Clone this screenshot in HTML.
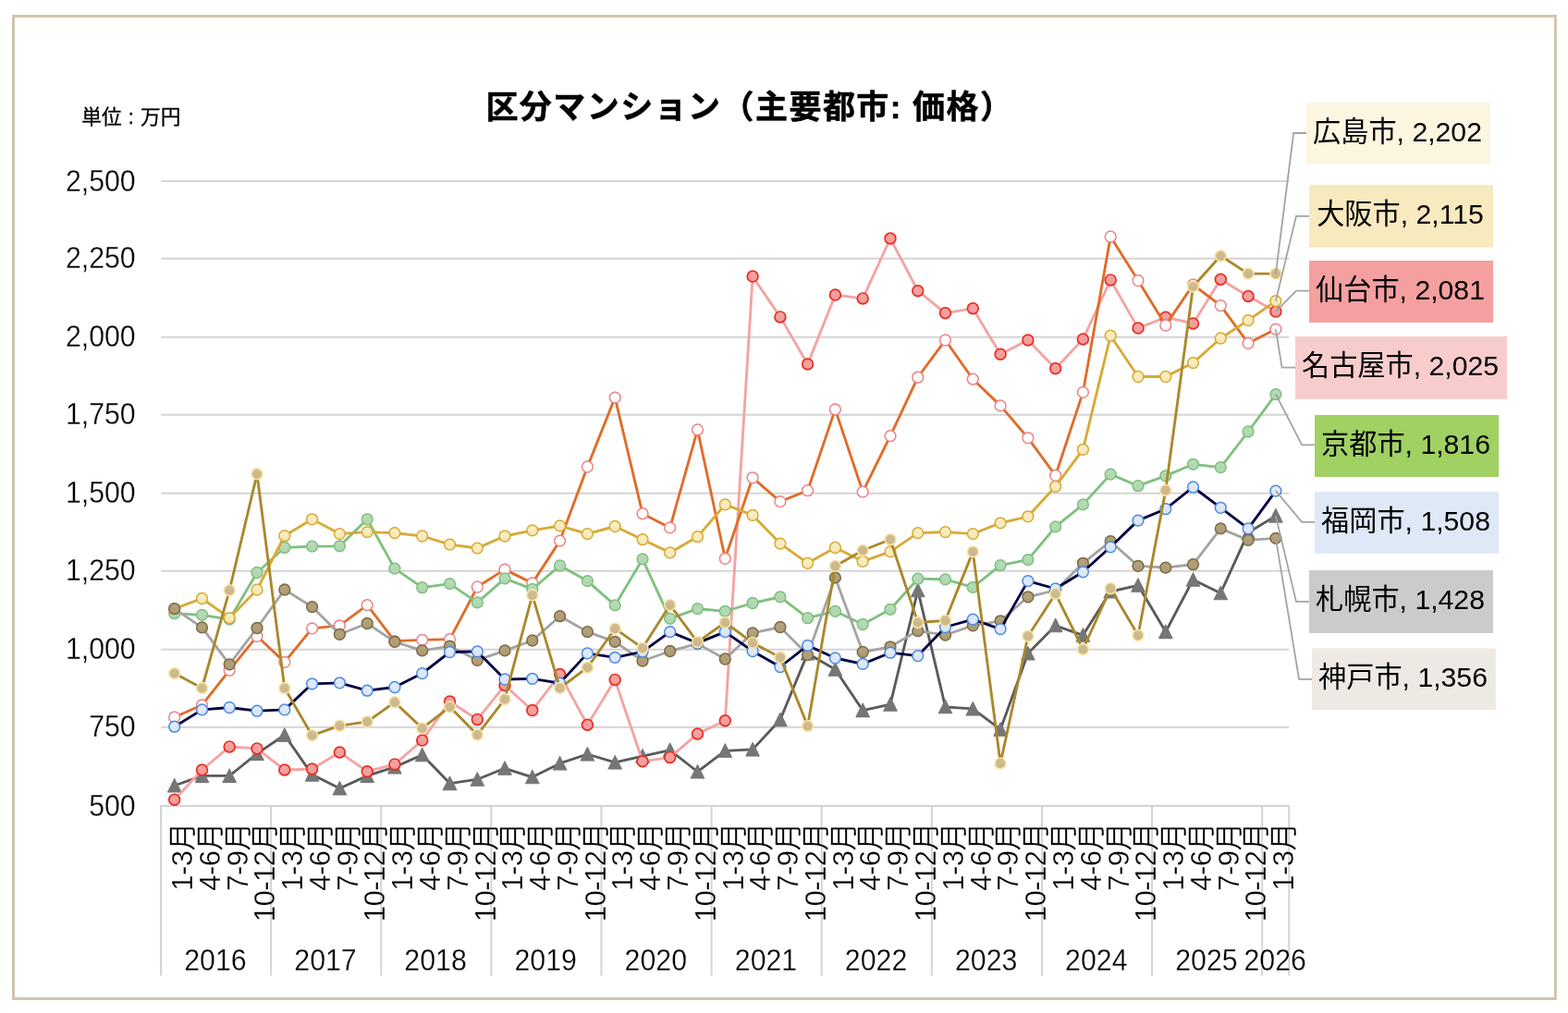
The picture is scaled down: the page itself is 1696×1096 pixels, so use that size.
<!DOCTYPE html>
<html lang="ja"><head><meta charset="utf-8"><title>区分マンション（主要都市: 価格）</title>
<style>
html,body{margin:0;padding:0;background:#fff;}
body{width:1696px;height:1096px;overflow:hidden;}
svg{display:block;}
text{font-family:"Liberation Sans","Noto Sans CJK JP",sans-serif;fill:#000;}
.ttl{font-weight:bold;font-size:35px;letter-spacing:1.45px;stroke:#000;stroke-width:0.5px;stroke-linejoin:round;}
.unit{font-size:21.7px;word-spacing:1.1px;stroke:#000;stroke-width:0.3px;}
.ax{font-size:32.8px;stroke:#fff;stroke-width:0.28px;}
.yr{font-size:32.8px;stroke:#fff;stroke-width:0.28px;}
.cat{font-size:31.0px;letter-spacing:-0.55px;stroke:#fff;stroke-width:0.28px;}
.dl{font-size:30.2px;letter-spacing:0.00px;}
.grid line{stroke:#d4d4d4;stroke-width:2;}
.lead polyline{fill:none;stroke:#a3a3a3;stroke-width:1.8;}
polyline.s{fill:none;stroke-width:2.85;stroke-linejoin:round;stroke-linecap:round;}
</style></head><body>
<svg width="1696" height="1096" viewBox="0 0 1696 1096">
<rect x="0" y="0" width="1696" height="1096" fill="#ffffff"/>
<defs>
<linearGradient id="g-sapporo" x1="0" y1="0" x2="0" y2="1"><stop offset="0" stop-color="#797979"/><stop offset="1" stop-color="#727272"/></linearGradient>
<linearGradient id="g-sendai" x1="0" y1="0" x2="0" y2="1"><stop offset="0" stop-color="#f6a3a2"/><stop offset="1" stop-color="#ef9c9b"/></linearGradient>
<linearGradient id="g-kyoto" x1="0" y1="0" x2="0" y2="1"><stop offset="0" stop-color="#b7dcb7"/><stop offset="1" stop-color="#b0d5b0"/></linearGradient>
<linearGradient id="g-osaka" x1="0" y1="0" x2="0" y2="1"><stop offset="0" stop-color="#fbeebf"/><stop offset="1" stop-color="#f4e7b8"/></linearGradient>
<linearGradient id="g-kobe" x1="0" y1="0" x2="0" y2="1"><stop offset="0" stop-color="#b3a27c"/><stop offset="1" stop-color="#ac9b75"/></linearGradient>
<linearGradient id="g-fukuoka" x1="0" y1="0" x2="0" y2="1"><stop offset="0" stop-color="#e2ebfb"/><stop offset="1" stop-color="#dbe4f4"/></linearGradient>
<linearGradient id="g-hiroshima" x1="0" y1="0" x2="0" y2="1"><stop offset="0" stop-color="#d2bc92"/><stop offset="1" stop-color="#cbb58b"/></linearGradient>
</defs>
<rect x="14.5" y="17.5" width="1667.9" height="1062.95" fill="#ffffff" stroke="#d1c5af" stroke-width="3"/>
<text class="ttl" x="525.4" y="127.6">区分マンション（主要都市: 価格）</text>
<text class="unit" x="88.3" y="134.4">単位 : 万円</text>
<g class="grid">
<line x1="173.0" y1="872.05" x2="1394.3" y2="872.05"/>
<line x1="174.2" y1="786.70" x2="1394.3" y2="786.70"/>
<line x1="174.2" y1="702.65" x2="1394.3" y2="702.65"/>
<line x1="174.2" y1="617.65" x2="1394.3" y2="617.65"/>
<line x1="174.2" y1="533.65" x2="1394.3" y2="533.65"/>
<line x1="174.2" y1="448.65" x2="1394.3" y2="448.65"/>
<line x1="174.2" y1="364.85" x2="1394.3" y2="364.85"/>
<line x1="174.2" y1="279.70" x2="1394.3" y2="279.70"/>
<line x1="174.2" y1="196.05" x2="1394.3" y2="196.05"/>
<line x1="174.00" y1="872.05" x2="174.00" y2="1055.6"/>
<line x1="293.12" y1="872.05" x2="293.12" y2="1055.6"/>
<line x1="412.24" y1="872.05" x2="412.24" y2="1055.6"/>
<line x1="531.36" y1="872.05" x2="531.36" y2="1055.6"/>
<line x1="650.48" y1="872.05" x2="650.48" y2="1055.6"/>
<line x1="769.60" y1="872.05" x2="769.60" y2="1055.6"/>
<line x1="888.72" y1="872.05" x2="888.72" y2="1055.6"/>
<line x1="1007.84" y1="872.05" x2="1007.84" y2="1055.6"/>
<line x1="1126.96" y1="872.05" x2="1126.96" y2="1055.6"/>
<line x1="1246.08" y1="872.05" x2="1246.08" y2="1055.6"/>
<line x1="1365.20" y1="872.05" x2="1365.20" y2="1055.6"/>
<line x1="1394.3" y1="871.05" x2="1394.3" y2="1055.6"/>
</g>
<g class="ax" text-anchor="end">
<text transform="translate(146.7 882.6) scale(0.924 1)">500</text>
<text transform="translate(146.7 797.2) scale(0.924 1)">750</text>
<text transform="translate(146.7 713.2) scale(0.924 1)">1,000</text>
<text transform="translate(146.7 628.2) scale(0.924 1)">1,250</text>
<text transform="translate(146.7 544.2) scale(0.924 1)">1,500</text>
<text transform="translate(146.7 459.2) scale(0.924 1)">1,750</text>
<text transform="translate(146.7 375.4) scale(0.924 1)">2,000</text>
<text transform="translate(146.7 290.2) scale(0.924 1)">2,250</text>
<text transform="translate(146.7 206.6) scale(0.924 1)">2,500</text>
</g>
<g class="cat" text-anchor="end">
<text transform="translate(207.99 890.2) rotate(-90)">1-3月</text>
<text transform="translate(237.77 890.2) rotate(-90)">4-6月</text>
<text transform="translate(267.55 890.2) rotate(-90)">7-9月</text>
<text transform="translate(297.33 890.2) rotate(-90)">10-12月</text>
<text transform="translate(327.11 890.2) rotate(-90)">1-3月</text>
<text transform="translate(356.89 890.2) rotate(-90)">4-6月</text>
<text transform="translate(386.67 890.2) rotate(-90)">7-9月</text>
<text transform="translate(416.45 890.2) rotate(-90)">10-12月</text>
<text transform="translate(446.23 890.2) rotate(-90)">1-3月</text>
<text transform="translate(476.01 890.2) rotate(-90)">4-6月</text>
<text transform="translate(505.79 890.2) rotate(-90)">7-9月</text>
<text transform="translate(535.57 890.2) rotate(-90)">10-12月</text>
<text transform="translate(565.35 890.2) rotate(-90)">1-3月</text>
<text transform="translate(595.13 890.2) rotate(-90)">4-6月</text>
<text transform="translate(624.91 890.2) rotate(-90)">7-9月</text>
<text transform="translate(654.69 890.2) rotate(-90)">10-12月</text>
<text transform="translate(684.47 890.2) rotate(-90)">1-3月</text>
<text transform="translate(714.25 890.2) rotate(-90)">4-6月</text>
<text transform="translate(744.03 890.2) rotate(-90)">7-9月</text>
<text transform="translate(773.81 890.2) rotate(-90)">10-12月</text>
<text transform="translate(803.59 890.2) rotate(-90)">1-3月</text>
<text transform="translate(833.37 890.2) rotate(-90)">4-6月</text>
<text transform="translate(863.15 890.2) rotate(-90)">7-9月</text>
<text transform="translate(892.93 890.2) rotate(-90)">10-12月</text>
<text transform="translate(922.71 890.2) rotate(-90)">1-3月</text>
<text transform="translate(952.49 890.2) rotate(-90)">4-6月</text>
<text transform="translate(982.27 890.2) rotate(-90)">7-9月</text>
<text transform="translate(1012.05 890.2) rotate(-90)">10-12月</text>
<text transform="translate(1041.83 890.2) rotate(-90)">1-3月</text>
<text transform="translate(1071.61 890.2) rotate(-90)">4-6月</text>
<text transform="translate(1101.39 890.2) rotate(-90)">7-9月</text>
<text transform="translate(1131.17 890.2) rotate(-90)">10-12月</text>
<text transform="translate(1160.95 890.2) rotate(-90)">1-3月</text>
<text transform="translate(1190.73 890.2) rotate(-90)">4-6月</text>
<text transform="translate(1220.51 890.2) rotate(-90)">7-9月</text>
<text transform="translate(1250.29 890.2) rotate(-90)">10-12月</text>
<text transform="translate(1280.07 890.2) rotate(-90)">1-3月</text>
<text transform="translate(1309.85 890.2) rotate(-90)">4-6月</text>
<text transform="translate(1339.63 890.2) rotate(-90)">7-9月</text>
<text transform="translate(1369.41 890.2) rotate(-90)">10-12月</text>
<text transform="translate(1399.19 890.2) rotate(-90)">1-3月</text>
</g>
<g class="yr" text-anchor="middle">
<text transform="translate(232.9 1049.8) scale(0.925 1)">2016</text>
<text transform="translate(352.0 1049.8) scale(0.925 1)">2017</text>
<text transform="translate(471.1 1049.8) scale(0.925 1)">2018</text>
<text transform="translate(590.2 1049.8) scale(0.925 1)">2019</text>
<text transform="translate(709.3 1049.8) scale(0.925 1)">2020</text>
<text transform="translate(828.5 1049.8) scale(0.925 1)">2021</text>
<text transform="translate(947.6 1049.8) scale(0.925 1)">2022</text>
<text transform="translate(1066.7 1049.8) scale(0.925 1)">2023</text>
<text transform="translate(1185.8 1049.8) scale(0.925 1)">2024</text>
<text transform="translate(1304.9 1049.8) scale(0.925 1)">2025</text>
<text transform="translate(1379.2 1049.8) scale(0.925 1)">2026</text>
</g>
<g>
<polyline class="s" stroke="#5a5a5a" points="188.7,850.0 218.5,839.4 248.2,839.4 278.0,815.4 307.8,795.3 337.6,838.1 367.4,853.0 397.2,839.4 426.9,829.9 456.7,816.7 486.5,847.6 516.3,843.2 546.0,831.3 575.8,840.8 605.6,825.9 635.4,816.0 665.2,824.9 695.0,818.1 724.7,811.6 754.5,835.0 784.3,812.3 814.1,810.9 843.9,778.7 873.6,706.9 903.4,724.2 933.2,768.6 963.0,762.1 992.8,638.7 1022.5,764.8 1052.3,766.9 1082.1,789.2 1111.9,706.9 1141.7,676.8 1171.4,687.3 1201.2,640.0 1231.0,633.3 1260.8,683.6 1290.5,627.2 1320.3,641.7 1350.1,576.3 1379.9,558.1"/>
<path fill="#767676" stroke="#767676" stroke-width="1.1" stroke-linejoin="round" d="M188.7 842.5l7.2 14.5h-14.4zM218.5 831.9l7.2 14.5h-14.4zM248.2 831.9l7.2 14.5h-14.4zM278.0 807.9l7.2 14.5h-14.4zM307.8 787.8l7.2 14.5h-14.4zM337.6 830.6l7.2 14.5h-14.4zM367.4 845.5l7.2 14.5h-14.4zM397.2 831.9l7.2 14.5h-14.4zM426.9 822.4l7.2 14.5h-14.4zM456.7 809.2l7.2 14.5h-14.4zM486.5 840.1l7.2 14.5h-14.4zM516.3 835.7l7.2 14.5h-14.4zM546.0 823.8l7.2 14.5h-14.4zM575.8 833.3l7.2 14.5h-14.4zM605.6 818.4l7.2 14.5h-14.4zM635.4 808.5l7.2 14.5h-14.4zM665.2 817.4l7.2 14.5h-14.4zM695.0 810.6l7.2 14.5h-14.4zM724.7 804.1l7.2 14.5h-14.4zM754.5 827.5l7.2 14.5h-14.4zM784.3 804.8l7.2 14.5h-14.4zM814.1 803.4l7.2 14.5h-14.4zM843.9 771.2l7.2 14.5h-14.4zM873.6 699.4l7.2 14.5h-14.4zM903.4 716.7l7.2 14.5h-14.4zM933.2 761.1l7.2 14.5h-14.4zM963.0 754.6l7.2 14.5h-14.4zM992.8 631.2l7.2 14.5h-14.4zM1022.5 757.3l7.2 14.5h-14.4zM1052.3 759.4l7.2 14.5h-14.4zM1082.1 781.7l7.2 14.5h-14.4zM1111.9 699.4l7.2 14.5h-14.4zM1141.7 669.3l7.2 14.5h-14.4zM1171.4 679.8l7.2 14.5h-14.4zM1201.2 632.5l7.2 14.5h-14.4zM1231.0 625.8l7.2 14.5h-14.4zM1260.8 676.1l7.2 14.5h-14.4zM1290.5 619.7l7.2 14.5h-14.4zM1320.3 634.2l7.2 14.5h-14.4zM1350.1 568.8l7.2 14.5h-14.4zM1379.9 550.6l7.2 14.5h-14.4z"/>
</g>
<g>
<polyline class="s" stroke="#f4a3a3" points="188.7,865.2 218.5,833.0 248.2,807.9 278.0,809.9 307.8,833.0 337.6,832.0 367.4,814.0 397.2,834.7 426.9,826.9 456.7,801.1 486.5,759.1 516.3,778.4 546.0,741.5 575.8,768.6 605.6,729.6 635.4,784.2 665.2,735.4 695.0,823.8 724.7,819.4 754.5,794.0 784.3,779.7 814.1,299.1 843.9,342.9 873.6,394.0 903.4,319.1 933.2,322.9 963.0,258.0 992.8,314.7 1022.5,338.8 1052.3,333.7 1082.1,383.2 1111.9,368.0 1141.7,398.7 1171.4,367.0 1201.2,302.9 1231.0,355.1 1260.8,343.2 1290.5,350.0 1320.3,302.2 1350.1,320.5 1379.9,337.1"/>
<g fill="url(#g-sendai)" stroke="#e82c20" stroke-width="1.7">
<circle cx="188.7" cy="865.2" r="5.9"/>
<circle cx="218.5" cy="833.0" r="5.9"/>
<circle cx="248.2" cy="807.9" r="5.9"/>
<circle cx="278.0" cy="809.9" r="5.9"/>
<circle cx="307.8" cy="833.0" r="5.9"/>
<circle cx="337.6" cy="832.0" r="5.9"/>
<circle cx="367.4" cy="814.0" r="5.9"/>
<circle cx="397.2" cy="834.7" r="5.9"/>
<circle cx="426.9" cy="826.9" r="5.9"/>
<circle cx="456.7" cy="801.1" r="5.9"/>
<circle cx="486.5" cy="759.1" r="5.9"/>
<circle cx="516.3" cy="778.4" r="5.9"/>
<circle cx="546.0" cy="741.5" r="5.9"/>
<circle cx="575.8" cy="768.6" r="5.9"/>
<circle cx="605.6" cy="729.6" r="5.9"/>
<circle cx="635.4" cy="784.2" r="5.9"/>
<circle cx="665.2" cy="735.4" r="5.9"/>
<circle cx="695.0" cy="823.8" r="5.9"/>
<circle cx="724.7" cy="819.4" r="5.9"/>
<circle cx="754.5" cy="794.0" r="5.9"/>
<circle cx="784.3" cy="779.7" r="5.9"/>
<circle cx="814.1" cy="299.1" r="5.9"/>
<circle cx="843.9" cy="342.9" r="5.9"/>
<circle cx="873.6" cy="394.0" r="5.9"/>
<circle cx="903.4" cy="319.1" r="5.9"/>
<circle cx="933.2" cy="322.9" r="5.9"/>
<circle cx="963.0" cy="258.0" r="5.9"/>
<circle cx="992.8" cy="314.7" r="5.9"/>
<circle cx="1022.5" cy="338.8" r="5.9"/>
<circle cx="1052.3" cy="333.7" r="5.9"/>
<circle cx="1082.1" cy="383.2" r="5.9"/>
<circle cx="1111.9" cy="368.0" r="5.9"/>
<circle cx="1141.7" cy="398.7" r="5.9"/>
<circle cx="1171.4" cy="367.0" r="5.9"/>
<circle cx="1201.2" cy="302.9" r="5.9"/>
<circle cx="1231.0" cy="355.1" r="5.9"/>
<circle cx="1260.8" cy="343.2" r="5.9"/>
<circle cx="1290.5" cy="350.0" r="5.9"/>
<circle cx="1320.3" cy="302.2" r="5.9"/>
<circle cx="1350.1" cy="320.5" r="5.9"/>
<circle cx="1379.9" cy="337.1" r="5.9"/>
</g>
</g>
<g>
<polyline class="s" stroke="#e06c28" points="188.7,776.0 218.5,762.8 248.2,725.2 278.0,688.3 307.8,716.4 337.6,679.9 367.4,676.8 397.2,654.6 426.9,693.7 456.7,692.4 486.5,691.7 516.3,635.0 546.0,616.1 575.8,630.9 605.6,585.1 635.4,505.0 665.2,430.1 695.0,555.7 724.7,570.9 754.5,464.9 784.3,604.3 814.1,516.8 843.9,542.6 873.6,530.7 903.4,442.9 933.2,532.1 963.0,471.7 992.8,408.2 1022.5,368.0 1052.3,410.2 1082.1,438.9 1111.9,473.8 1141.7,514.5 1171.4,424.4 1201.2,256.0 1231.0,303.5 1260.8,352.0 1290.5,308.0 1320.3,330.7 1350.1,371.4 1379.9,356.1"/>
<g fill="#ffffff" stroke="#ee8287" stroke-width="1.5">
<circle cx="188.7" cy="776.0" r="5.9"/>
<circle cx="218.5" cy="762.8" r="5.9"/>
<circle cx="248.2" cy="725.2" r="5.9"/>
<circle cx="278.0" cy="688.3" r="5.9"/>
<circle cx="307.8" cy="716.4" r="5.9"/>
<circle cx="337.6" cy="679.9" r="5.9"/>
<circle cx="367.4" cy="676.8" r="5.9"/>
<circle cx="397.2" cy="654.6" r="5.9"/>
<circle cx="426.9" cy="693.7" r="5.9"/>
<circle cx="456.7" cy="692.4" r="5.9"/>
<circle cx="486.5" cy="691.7" r="5.9"/>
<circle cx="516.3" cy="635.0" r="5.9"/>
<circle cx="546.0" cy="616.1" r="5.9"/>
<circle cx="575.8" cy="630.9" r="5.9"/>
<circle cx="605.6" cy="585.1" r="5.9"/>
<circle cx="635.4" cy="505.0" r="5.9"/>
<circle cx="665.2" cy="430.1" r="5.9"/>
<circle cx="695.0" cy="555.7" r="5.9"/>
<circle cx="724.7" cy="570.9" r="5.9"/>
<circle cx="754.5" cy="464.9" r="5.9"/>
<circle cx="784.3" cy="604.3" r="5.9"/>
<circle cx="814.1" cy="516.8" r="5.9"/>
<circle cx="843.9" cy="542.6" r="5.9"/>
<circle cx="873.6" cy="530.7" r="5.9"/>
<circle cx="903.4" cy="442.9" r="5.9"/>
<circle cx="933.2" cy="532.1" r="5.9"/>
<circle cx="963.0" cy="471.7" r="5.9"/>
<circle cx="992.8" cy="408.2" r="5.9"/>
<circle cx="1022.5" cy="368.0" r="5.9"/>
<circle cx="1052.3" cy="410.2" r="5.9"/>
<circle cx="1082.1" cy="438.9" r="5.9"/>
<circle cx="1111.9" cy="473.8" r="5.9"/>
<circle cx="1141.7" cy="514.5" r="5.9"/>
<circle cx="1171.4" cy="424.4" r="5.9"/>
<circle cx="1201.2" cy="256.0" r="5.9"/>
<circle cx="1231.0" cy="303.5" r="5.9"/>
<circle cx="1260.8" cy="352.0" r="5.9"/>
<circle cx="1290.5" cy="308.0" r="5.9"/>
<circle cx="1320.3" cy="330.7" r="5.9"/>
<circle cx="1350.1" cy="371.4" r="5.9"/>
<circle cx="1379.9" cy="356.1" r="5.9"/>
</g>
</g>
<g>
<polyline class="s" stroke="#7fc07f" points="188.7,663.7 218.5,665.4 248.2,670.1 278.0,619.5 307.8,592.5 337.6,591.1 367.4,590.8 397.2,561.8 426.9,615.1 456.7,635.7 486.5,631.6 516.3,651.9 546.0,625.9 575.8,637.3 605.6,612.0 635.4,628.6 665.2,654.9 695.0,604.9 724.7,669.4 754.5,658.6 784.3,661.3 814.1,652.5 843.9,645.8 873.6,668.7 903.4,661.3 933.2,675.5 963.0,659.3 992.8,626.2 1022.5,626.9 1052.3,635.3 1082.1,611.7 1111.9,605.6 1141.7,569.9 1171.4,545.9 1201.2,513.1 1231.0,525.7 1260.8,514.8 1290.5,502.3 1320.3,505.6 1350.1,467.0 1379.9,426.7"/>
<g fill="url(#g-kyoto)" stroke="#7fc07f" stroke-width="1.5">
<circle cx="188.7" cy="663.7" r="5.9"/>
<circle cx="218.5" cy="665.4" r="5.9"/>
<circle cx="248.2" cy="670.1" r="5.9"/>
<circle cx="278.0" cy="619.5" r="5.9"/>
<circle cx="307.8" cy="592.5" r="5.9"/>
<circle cx="337.6" cy="591.1" r="5.9"/>
<circle cx="367.4" cy="590.8" r="5.9"/>
<circle cx="397.2" cy="561.8" r="5.9"/>
<circle cx="426.9" cy="615.1" r="5.9"/>
<circle cx="456.7" cy="635.7" r="5.9"/>
<circle cx="486.5" cy="631.6" r="5.9"/>
<circle cx="516.3" cy="651.9" r="5.9"/>
<circle cx="546.0" cy="625.9" r="5.9"/>
<circle cx="575.8" cy="637.3" r="5.9"/>
<circle cx="605.6" cy="612.0" r="5.9"/>
<circle cx="635.4" cy="628.6" r="5.9"/>
<circle cx="665.2" cy="654.9" r="5.9"/>
<circle cx="695.0" cy="604.9" r="5.9"/>
<circle cx="724.7" cy="669.4" r="5.9"/>
<circle cx="754.5" cy="658.6" r="5.9"/>
<circle cx="784.3" cy="661.3" r="5.9"/>
<circle cx="814.1" cy="652.5" r="5.9"/>
<circle cx="843.9" cy="645.8" r="5.9"/>
<circle cx="873.6" cy="668.7" r="5.9"/>
<circle cx="903.4" cy="661.3" r="5.9"/>
<circle cx="933.2" cy="675.5" r="5.9"/>
<circle cx="963.0" cy="659.3" r="5.9"/>
<circle cx="992.8" cy="626.2" r="5.9"/>
<circle cx="1022.5" cy="626.9" r="5.9"/>
<circle cx="1052.3" cy="635.3" r="5.9"/>
<circle cx="1082.1" cy="611.7" r="5.9"/>
<circle cx="1111.9" cy="605.6" r="5.9"/>
<circle cx="1141.7" cy="569.9" r="5.9"/>
<circle cx="1171.4" cy="545.9" r="5.9"/>
<circle cx="1201.2" cy="513.1" r="5.9"/>
<circle cx="1231.0" cy="525.7" r="5.9"/>
<circle cx="1260.8" cy="514.8" r="5.9"/>
<circle cx="1290.5" cy="502.3" r="5.9"/>
<circle cx="1320.3" cy="505.6" r="5.9"/>
<circle cx="1350.1" cy="467.0" r="5.9"/>
<circle cx="1379.9" cy="426.7" r="5.9"/>
</g>
</g>
<g>
<polyline class="s" stroke="#d8aa36" points="188.7,658.6 218.5,647.5 248.2,668.7 278.0,638.0 307.8,579.7 337.6,561.8 367.4,577.6 397.2,575.6 426.9,576.6 456.7,580.0 486.5,589.1 516.3,593.1 546.0,580.0 575.8,573.9 605.6,568.9 635.4,577.6 665.2,569.5 695.0,583.7 724.7,597.9 754.5,580.7 784.3,545.9 814.1,557.4 843.9,588.1 873.6,609.3 903.4,592.5 933.2,607.3 963.0,596.9 992.8,576.6 1022.5,575.6 1052.3,577.6 1082.1,565.8 1111.9,558.8 1141.7,526.3 1171.4,486.3 1201.2,363.2 1231.0,407.5 1260.8,407.5 1290.5,392.6 1320.3,366.0 1350.1,346.6 1379.9,325.6"/>
<g fill="url(#g-osaka)" stroke="#d8aa36" stroke-width="1.5">
<circle cx="188.7" cy="658.6" r="5.9"/>
<circle cx="218.5" cy="647.5" r="5.9"/>
<circle cx="248.2" cy="668.7" r="5.9"/>
<circle cx="278.0" cy="638.0" r="5.9"/>
<circle cx="307.8" cy="579.7" r="5.9"/>
<circle cx="337.6" cy="561.8" r="5.9"/>
<circle cx="367.4" cy="577.6" r="5.9"/>
<circle cx="397.2" cy="575.6" r="5.9"/>
<circle cx="426.9" cy="576.6" r="5.9"/>
<circle cx="456.7" cy="580.0" r="5.9"/>
<circle cx="486.5" cy="589.1" r="5.9"/>
<circle cx="516.3" cy="593.1" r="5.9"/>
<circle cx="546.0" cy="580.0" r="5.9"/>
<circle cx="575.8" cy="573.9" r="5.9"/>
<circle cx="605.6" cy="568.9" r="5.9"/>
<circle cx="635.4" cy="577.6" r="5.9"/>
<circle cx="665.2" cy="569.5" r="5.9"/>
<circle cx="695.0" cy="583.7" r="5.9"/>
<circle cx="724.7" cy="597.9" r="5.9"/>
<circle cx="754.5" cy="580.7" r="5.9"/>
<circle cx="784.3" cy="545.9" r="5.9"/>
<circle cx="814.1" cy="557.4" r="5.9"/>
<circle cx="843.9" cy="588.1" r="5.9"/>
<circle cx="873.6" cy="609.3" r="5.9"/>
<circle cx="903.4" cy="592.5" r="5.9"/>
<circle cx="933.2" cy="607.3" r="5.9"/>
<circle cx="963.0" cy="596.9" r="5.9"/>
<circle cx="992.8" cy="576.6" r="5.9"/>
<circle cx="1022.5" cy="575.6" r="5.9"/>
<circle cx="1052.3" cy="577.6" r="5.9"/>
<circle cx="1082.1" cy="565.8" r="5.9"/>
<circle cx="1111.9" cy="558.8" r="5.9"/>
<circle cx="1141.7" cy="526.3" r="5.9"/>
<circle cx="1171.4" cy="486.3" r="5.9"/>
<circle cx="1201.2" cy="363.2" r="5.9"/>
<circle cx="1231.0" cy="407.5" r="5.9"/>
<circle cx="1260.8" cy="407.5" r="5.9"/>
<circle cx="1290.5" cy="392.6" r="5.9"/>
<circle cx="1320.3" cy="366.0" r="5.9"/>
<circle cx="1350.1" cy="346.6" r="5.9"/>
<circle cx="1379.9" cy="325.6" r="5.9"/>
</g>
</g>
<g>
<polyline class="s" stroke="#a4a4a4" points="188.7,658.6 218.5,678.9 248.2,718.8 278.0,679.5 307.8,638.0 337.6,656.6 367.4,686.3 397.2,674.5 426.9,694.4 456.7,703.9 486.5,699.1 516.3,714.4 546.0,703.9 575.8,693.0 605.6,666.7 635.4,683.6 665.2,694.4 695.0,715.0 724.7,704.5 754.5,696.4 784.3,713.0 814.1,684.9 843.9,678.5 873.6,708.6 903.4,624.9 933.2,705.5 963.0,699.8 992.8,682.6 1022.5,687.0 1052.3,676.8 1082.1,671.8 1111.9,645.8 1141.7,638.7 1171.4,609.3 1201.2,585.7 1231.0,612.4 1260.8,614.1 1290.5,610.7 1320.3,571.9 1350.1,584.4 1379.9,582.4"/>
<g fill="url(#g-kobe)" stroke="#7c6a42" stroke-width="1.5">
<circle cx="188.7" cy="658.6" r="5.9"/>
<circle cx="218.5" cy="678.9" r="5.9"/>
<circle cx="248.2" cy="718.8" r="5.9"/>
<circle cx="278.0" cy="679.5" r="5.9"/>
<circle cx="307.8" cy="638.0" r="5.9"/>
<circle cx="337.6" cy="656.6" r="5.9"/>
<circle cx="367.4" cy="686.3" r="5.9"/>
<circle cx="397.2" cy="674.5" r="5.9"/>
<circle cx="426.9" cy="694.4" r="5.9"/>
<circle cx="456.7" cy="703.9" r="5.9"/>
<circle cx="486.5" cy="699.1" r="5.9"/>
<circle cx="516.3" cy="714.4" r="5.9"/>
<circle cx="546.0" cy="703.9" r="5.9"/>
<circle cx="575.8" cy="693.0" r="5.9"/>
<circle cx="605.6" cy="666.7" r="5.9"/>
<circle cx="635.4" cy="683.6" r="5.9"/>
<circle cx="665.2" cy="694.4" r="5.9"/>
<circle cx="695.0" cy="715.0" r="5.9"/>
<circle cx="724.7" cy="704.5" r="5.9"/>
<circle cx="754.5" cy="696.4" r="5.9"/>
<circle cx="784.3" cy="713.0" r="5.9"/>
<circle cx="814.1" cy="684.9" r="5.9"/>
<circle cx="843.9" cy="678.5" r="5.9"/>
<circle cx="873.6" cy="708.6" r="5.9"/>
<circle cx="903.4" cy="624.9" r="5.9"/>
<circle cx="933.2" cy="705.5" r="5.9"/>
<circle cx="963.0" cy="699.8" r="5.9"/>
<circle cx="992.8" cy="682.6" r="5.9"/>
<circle cx="1022.5" cy="687.0" r="5.9"/>
<circle cx="1052.3" cy="676.8" r="5.9"/>
<circle cx="1082.1" cy="671.8" r="5.9"/>
<circle cx="1111.9" cy="645.8" r="5.9"/>
<circle cx="1141.7" cy="638.7" r="5.9"/>
<circle cx="1171.4" cy="609.3" r="5.9"/>
<circle cx="1201.2" cy="585.7" r="5.9"/>
<circle cx="1231.0" cy="612.4" r="5.9"/>
<circle cx="1260.8" cy="614.1" r="5.9"/>
<circle cx="1290.5" cy="610.7" r="5.9"/>
<circle cx="1320.3" cy="571.9" r="5.9"/>
<circle cx="1350.1" cy="584.4" r="5.9"/>
<circle cx="1379.9" cy="582.4" r="5.9"/>
</g>
</g>
<g>
<polyline class="s" stroke="#000042" points="188.7,786.2 218.5,767.9 248.2,765.5 278.0,769.2 307.8,767.9 337.6,739.8 367.4,738.8 397.2,747.2 426.9,743.5 456.7,728.6 486.5,705.5 516.3,704.9 546.0,735.0 575.8,734.3 605.6,739.1 635.4,706.9 665.2,711.3 695.0,705.2 724.7,683.6 754.5,695.7 784.3,683.6 814.1,704.5 843.9,721.5 873.6,698.4 903.4,712.0 933.2,718.4 963.0,706.2 992.8,709.6 1022.5,678.5 1052.3,670.1 1082.1,680.6 1111.9,628.6 1141.7,637.0 1171.4,618.8 1201.2,591.8 1231.0,563.1 1260.8,550.7 1290.5,527.0 1320.3,549.3 1350.1,571.9 1379.9,531.1"/>
<g fill="url(#g-fukuoka)" stroke="#4a8ae4" stroke-width="1.5">
<circle cx="188.7" cy="786.2" r="5.9"/>
<circle cx="218.5" cy="767.9" r="5.9"/>
<circle cx="248.2" cy="765.5" r="5.9"/>
<circle cx="278.0" cy="769.2" r="5.9"/>
<circle cx="307.8" cy="767.9" r="5.9"/>
<circle cx="337.6" cy="739.8" r="5.9"/>
<circle cx="367.4" cy="738.8" r="5.9"/>
<circle cx="397.2" cy="747.2" r="5.9"/>
<circle cx="426.9" cy="743.5" r="5.9"/>
<circle cx="456.7" cy="728.6" r="5.9"/>
<circle cx="486.5" cy="705.5" r="5.9"/>
<circle cx="516.3" cy="704.9" r="5.9"/>
<circle cx="546.0" cy="735.0" r="5.9"/>
<circle cx="575.8" cy="734.3" r="5.9"/>
<circle cx="605.6" cy="739.1" r="5.9"/>
<circle cx="635.4" cy="706.9" r="5.9"/>
<circle cx="665.2" cy="711.3" r="5.9"/>
<circle cx="695.0" cy="705.2" r="5.9"/>
<circle cx="724.7" cy="683.6" r="5.9"/>
<circle cx="754.5" cy="695.7" r="5.9"/>
<circle cx="784.3" cy="683.6" r="5.9"/>
<circle cx="814.1" cy="704.5" r="5.9"/>
<circle cx="843.9" cy="721.5" r="5.9"/>
<circle cx="873.6" cy="698.4" r="5.9"/>
<circle cx="903.4" cy="712.0" r="5.9"/>
<circle cx="933.2" cy="718.4" r="5.9"/>
<circle cx="963.0" cy="706.2" r="5.9"/>
<circle cx="992.8" cy="709.6" r="5.9"/>
<circle cx="1022.5" cy="678.5" r="5.9"/>
<circle cx="1052.3" cy="670.1" r="5.9"/>
<circle cx="1082.1" cy="680.6" r="5.9"/>
<circle cx="1111.9" cy="628.6" r="5.9"/>
<circle cx="1141.7" cy="637.0" r="5.9"/>
<circle cx="1171.4" cy="618.8" r="5.9"/>
<circle cx="1201.2" cy="591.8" r="5.9"/>
<circle cx="1231.0" cy="563.1" r="5.9"/>
<circle cx="1260.8" cy="550.7" r="5.9"/>
<circle cx="1290.5" cy="527.0" r="5.9"/>
<circle cx="1320.3" cy="549.3" r="5.9"/>
<circle cx="1350.1" cy="571.9" r="5.9"/>
<circle cx="1379.9" cy="531.1" r="5.9"/>
</g>
</g>
<g>
<polyline class="s" stroke="#aa882b" points="188.7,728.6 218.5,744.5 248.2,638.7 278.0,512.8 307.8,744.5 337.6,795.7 367.4,785.2 397.2,780.8 426.9,759.8 456.7,787.9 486.5,764.8 516.3,795.0 546.0,756.4 575.8,643.8 605.6,744.5 635.4,722.2 665.2,680.2 695.0,701.1 724.7,654.6 754.5,694.7 784.3,673.5 814.1,695.4 843.9,711.3 873.6,785.5 903.4,612.4 933.2,595.5 963.0,583.7 992.8,673.5 1022.5,671.4 1052.3,596.9 1082.1,825.9 1111.9,688.3 1141.7,642.4 1171.4,702.5 1201.2,636.7 1231.0,687.3 1260.8,530.4 1290.5,310.0 1320.3,276.8 1350.1,296.1 1379.9,296.1"/>
<g fill="url(#g-hiroshima)" stroke="#f6e4a2" stroke-width="1.6">
<circle cx="188.7" cy="728.6" r="5.9"/>
<circle cx="218.5" cy="744.5" r="5.9"/>
<circle cx="248.2" cy="638.7" r="5.9"/>
<circle cx="278.0" cy="512.8" r="5.9"/>
<circle cx="307.8" cy="744.5" r="5.9"/>
<circle cx="337.6" cy="795.7" r="5.9"/>
<circle cx="367.4" cy="785.2" r="5.9"/>
<circle cx="397.2" cy="780.8" r="5.9"/>
<circle cx="426.9" cy="759.8" r="5.9"/>
<circle cx="456.7" cy="787.9" r="5.9"/>
<circle cx="486.5" cy="764.8" r="5.9"/>
<circle cx="516.3" cy="795.0" r="5.9"/>
<circle cx="546.0" cy="756.4" r="5.9"/>
<circle cx="575.8" cy="643.8" r="5.9"/>
<circle cx="605.6" cy="744.5" r="5.9"/>
<circle cx="635.4" cy="722.2" r="5.9"/>
<circle cx="665.2" cy="680.2" r="5.9"/>
<circle cx="695.0" cy="701.1" r="5.9"/>
<circle cx="724.7" cy="654.6" r="5.9"/>
<circle cx="754.5" cy="694.7" r="5.9"/>
<circle cx="784.3" cy="673.5" r="5.9"/>
<circle cx="814.1" cy="695.4" r="5.9"/>
<circle cx="843.9" cy="711.3" r="5.9"/>
<circle cx="873.6" cy="785.5" r="5.9"/>
<circle cx="903.4" cy="612.4" r="5.9"/>
<circle cx="933.2" cy="595.5" r="5.9"/>
<circle cx="963.0" cy="583.7" r="5.9"/>
<circle cx="992.8" cy="673.5" r="5.9"/>
<circle cx="1022.5" cy="671.4" r="5.9"/>
<circle cx="1052.3" cy="596.9" r="5.9"/>
<circle cx="1082.1" cy="825.9" r="5.9"/>
<circle cx="1111.9" cy="688.3" r="5.9"/>
<circle cx="1141.7" cy="642.4" r="5.9"/>
<circle cx="1171.4" cy="702.5" r="5.9"/>
<circle cx="1201.2" cy="636.7" r="5.9"/>
<circle cx="1231.0" cy="687.3" r="5.9"/>
<circle cx="1260.8" cy="530.4" r="5.9"/>
<circle cx="1290.5" cy="310.0" r="5.9"/>
<circle cx="1320.3" cy="276.8" r="5.9"/>
<circle cx="1350.1" cy="296.1" r="5.9"/>
<circle cx="1379.9" cy="296.1" r="5.9"/>
</g>
</g>
<g class="lead">
<polyline points="1379.9,296.1 1399.2,144.0 1413.0,144.0"/>
<polyline points="1379.9,325.6 1402.0,233.8 1416.0,233.8"/>
<polyline points="1379.9,337.1 1402.0,314.7 1416.0,314.7"/>
<polyline points="1379.9,356.1 1386.6,397.6 1401.0,397.6"/>
<polyline points="1379.9,426.7 1408.2,481.4 1422.0,481.4"/>
<polyline points="1379.9,531.1 1408.2,564.8 1422.0,564.8"/>
<polyline points="1379.9,558.1 1402.0,650.9 1416.0,650.9"/>
<polyline points="1379.9,582.4 1405.1,734.8 1419.0,734.8"/>
</g>
<g class="dl" text-anchor="middle">
<rect x="1413.0" y="111.0" width="199.0" height="66.7" fill="#fcf5e0"/>
<text x="1511.5" y="152.5">広島市, 2,202</text>
<rect x="1416.0" y="200.0" width="199.0" height="67.8" fill="#f8eabf"/>
<text x="1514.5" y="242.1">大阪市, 2,115</text>
<rect x="1416.0" y="282.0" width="199.0" height="67.0" fill="#f4a0a0"/>
<text x="1514.5" y="323.7">仙台市, 2,081</text>
<rect x="1401.0" y="364.0" width="229.0" height="67.8" fill="#f8cccc"/>
<text x="1514.5" y="406.1">名古屋市, 2,025</text>
<rect x="1422.0" y="449.0" width="199.0" height="67.0" fill="#a1d063"/>
<text x="1520.5" y="490.7">京都市, 1,816</text>
<rect x="1422.0" y="532.2" width="199.0" height="66.6" fill="#dee8f7"/>
<text x="1520.5" y="573.7">福岡市, 1,508</text>
<rect x="1416.0" y="617.0" width="199.0" height="68.0" fill="#cbcbcb"/>
<text x="1514.5" y="659.2">札幌市, 1,428</text>
<rect x="1419.0" y="701.3" width="199.0" height="66.7" fill="#eeeae3"/>
<text x="1517.5" y="742.9">神戸市, 1,356</text>
</g>
</svg>
</body></html>
